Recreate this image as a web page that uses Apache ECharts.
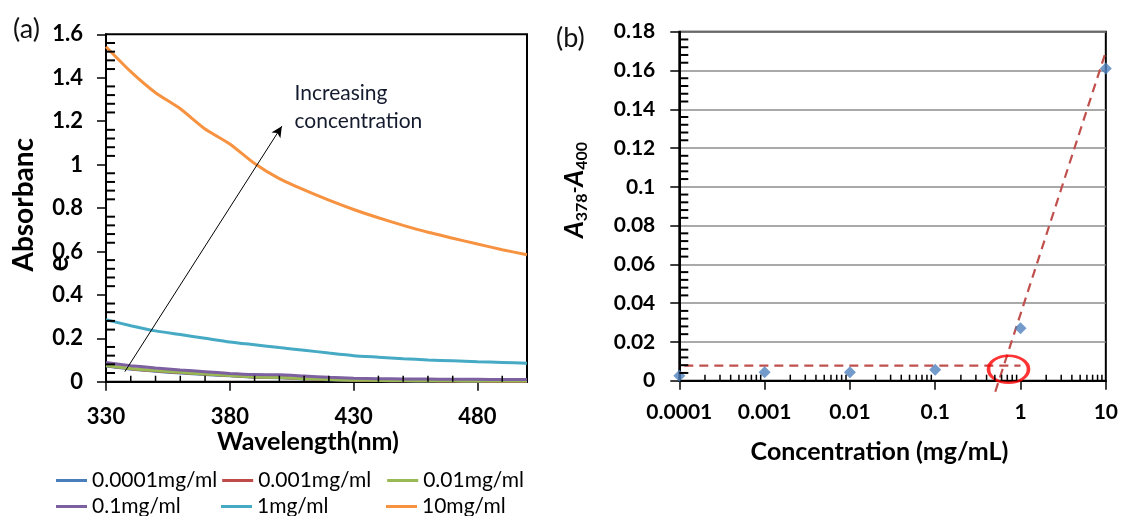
<!DOCTYPE html>
<html>
<head>
<meta charset="utf-8">
<script src="https://cdn.jsdelivr.net/npm/echarts@6.0.0/dist/echarts.min.js"></script>
<style>html,body{margin:0;padding:0;background:#fff}#chart01{width:1121px;height:516px}</style>
</head>
<body>
<div id="chart01"></div>
<script>
// (a) absorbance spectra
var wavelength = [330,340,350,360,370,380,390,400,410,420,430,440,450,460,470,480,490,500];
var abs00001 = [0.072,0.058,0.048,0.040,0.033,0.027,0.021,0.018,0.013,0.009,0.006,0.005,0.004,0.003,0.003,0.002,0.002,0.002];
var abs0001  = [0.074,0.060,0.050,0.042,0.035,0.028,0.022,0.019,0.014,0.010,0.007,0.005,0.004,0.004,0.003,0.003,0.002,0.002];
var abs001   = [0.075,0.061,0.051,0.043,0.035,0.028,0.022,0.019,0.014,0.010,0.007,0.006,0.005,0.004,0.004,0.003,0.003,0.003];
var abs01    = [0.088,0.074,0.063,0.054,0.046,0.038,0.033,0.032,0.026,0.020,0.016,0.014,0.013,0.012,0.011,0.011,0.010,0.010];
var abs1     = [0.285,0.258,0.234,0.217,0.200,0.183,0.170,0.157,0.145,0.132,0.120,0.113,0.106,0.100,0.096,0.092,0.089,0.085];
var abs10    = [1.543,1.428,1.331,1.257,1.164,1.095,1.005,0.935,0.883,0.836,0.793,0.755,0.720,0.688,0.661,0.634,0.608,0.585];
var seriesNames = ['0.0001mg/ml','0.001mg/ml','0.01mg/ml','0.1mg/ml','1mg/ml','10mg/ml'];
var seriesColors = ['#4A7EBB','#BE4B48','#98B954','#7D60A0','#46AAC5','#F69240'];
var wlTicks = [330,380,430,480];
var wlMinorTicks = [340,350,360,370,390,400,410,420,440,450,460,470,490];
var absMinorTicks = [0.04,0.08,0.12,0.16,0.24,0.28,0.32,0.36,0.44,0.48,0.52,0.56,0.64,0.68,0.72,0.76,
                     0.84,0.88,0.92,0.96,1.04,1.08,1.12,1.16,1.24,1.28,1.32,1.36,1.44,1.48,1.52,1.56];
var arrowFrom = [337.6, 0.046];
var arrowTo = [401, 1.177];

// (b) A378-A400 vs concentration
var concentration = [0.0001,0.001,0.01,0.1,1,10];
var diffA = [0.0026,0.0044,0.0044,0.0056,0.027,0.161];
var concTickLabels = ['0.0001','0.001','0.01','0.1','1','10'];
var baseLineX = [0.0000764, 1.0];
var baseLineY = [0.0078, 0.0078];
var trendX = [0.506, 9.87];
var trendY = [-0.0057, 0.1689];
var lodCircle = [0.723, 0.0059];

// log minor ticks 2..9 in each decade, y minor ticks every 0.004
var concMinorTicks = [];
for (var d = 0.0001; d < 5; d *= 10) {
    for (var k = 2; k <= 9; k++) concMinorTicks.push(d * k);
}
var diffMinorTicks = [];
for (var j = 1; j < 45; j++) if (j % 5) diffMinorTicks.push(+(j * 0.004).toFixed(4));

function zip(xs, ys) {
    return xs.map(function (x, i) { return [x, ys[i]]; });
}

// minor ticks drawn inside the plot (the built-in ones only go outward)
function xTickSeries(xi, xTicks) {
    return {
        type: 'custom', xAxisIndex: xi, yAxisIndex: xi, silent: true, z: 10,
        data: xTicks.map(function (v) { return [v, 0]; }),
        renderItem: function (params, api) {
            var p = api.coord([api.value(0), api.value(1)]);
            return {
                type: 'line',
                shape: { x1: p[0], y1: p[1], x2: p[0], y2: p[1] - 6 },
                style: { stroke: '#000', lineWidth: 1.5 }
            };
        }
    };
}

function yTickSeries(xi, x0, yTicks) {
    return {
        type: 'custom', xAxisIndex: xi, yAxisIndex: xi, silent: true, z: 10,
        data: yTicks.map(function (v) { return [x0, v]; }),
        renderItem: function (params, api) {
            var p = api.coord([api.value(0), api.value(1)]);
            return {
                type: 'rect',
                shape: { x: p[0], y: p[1] - 1, width: 9, height: 2 },
                style: { fill: '#000' }
            };
        }
    };
}

var absData = [abs00001, abs0001, abs001, abs01, abs1, abs10];
var lineSeries = absData.map(function (vals, i) {
    return {
        name: seriesNames[i],
        type: 'line',
        xAxisIndex: 0,
        yAxisIndex: 0,
        data: zip(wavelength, vals),
        showSymbol: false,
        smooth: 0.2,
        color: seriesColors[i],
        lineStyle: { width: 3, color: seriesColors[i] }
    };
});
lineSeries[0].markLine = {
    silent: true,
    symbol: ['none', 'arrow'],
    symbolSize: [8, 11],
    label: { show: false },
    lineStyle: { color: '#000', width: 1, type: 'solid' },
    data: [[{ coord: arrowFrom }, { coord: arrowTo }]]
};

var labelFontA = { fontFamily: 'Lato', fontWeight: 'bold', fontSize: 22, color: '#000' };
var labelFontB = { fontFamily: 'Lato', fontWeight: 'bold', fontSize: 21, color: '#000' };
var blackLine = { show: true, onZero: false, lineStyle: { color: '#000', width: 2 } };
var majorTick = { show: true, length: 9, lineStyle: { color: '#000', width: 1.5 } };

var myChart = echarts.init(document.getElementById('chart01'));
option = {
    backgroundColor: '#fff',
    animation: false,
    grid: [
        { left: 106, right: 594, top: 34.3, bottom: 134.3, show: true, borderColor: '#000', borderWidth: 2 },
        { left: 679.3, right: 13, top: 31.7, bottom: 135.3, show: true, borderColor: '#000', borderWidth: 2 }
    ],
    legend: {
        data: seriesNames,
        left: 56,
        top: 470,
        padding: 0,
        width: 500,
        icon: 'rect',
        itemWidth: 31,
        itemHeight: 3,
        itemGap: 5,
        textStyle: { fontFamily: 'Lato', fontSize: 21, color: '#000', width: 124, lineHeight: 20 }
    },
    xAxis: [
        {
            type: 'value', gridIndex: 0, min: 330, max: 500,
            axisLine: blackLine,
            axisTick: { show: true, length: 9, customValues: wlTicks, lineStyle: { color: '#000', width: 1.5 } },
            axisLabel: Object.assign({ margin: 24, customValues: wlTicks }, labelFontA),
            splitLine: { show: false }
        },
        {
            type: 'log', gridIndex: 1, logBase: 10, min: 0.0001, max: 10,
            axisLine: blackLine,
            axisTick: majorTick,
            axisLabel: Object.assign({
                margin: 21,
                formatter: function (v) { return concTickLabels[Math.round(Math.log10(v)) + 4]; }
            }, labelFontB),
            splitLine: { show: false }
        }
    ],
    yAxis: [
        {
            type: 'value', gridIndex: 0, min: 0, max: 1.6, interval: 0.2,
            axisLine: blackLine,
            axisTick: majorTick,
            axisLabel: Object.assign({ margin: 23 }, labelFontA),
            splitLine: { show: false }
        },
        {
            type: 'value', gridIndex: 1, min: 0, max: 0.18, interval: 0.02,
            axisLine: blackLine,
            axisTick: majorTick,
            axisLabel: Object.assign({ margin: 24 }, labelFontB),
            splitLine: { show: true, lineStyle: { color: '#8c8c8c', width: 1.5 } }
        }
    ],
    series: lineSeries.concat([
        xTickSeries(0, wlMinorTicks),
        xTickSeries(1, concMinorTicks),
        yTickSeries(0, 330, absMinorTicks),
        yTickSeries(1, 0.0001, diffMinorTicks),
        {
            type: 'line', xAxisIndex: 1, yAxisIndex: 1, silent: true, clip: false,
            data: zip(baseLineX, baseLineY), showSymbol: false,
            lineStyle: { color: '#C0504D', width: 2.2, type: [9, 6] }
        },
        {
            type: 'line', xAxisIndex: 1, yAxisIndex: 1, silent: true, clip: false,
            data: zip(trendX, trendY), showSymbol: false,
            lineStyle: { color: '#C0504D', width: 2.2, type: [9, 6] }
        },
        {
            type: 'scatter', xAxisIndex: 1, yAxisIndex: 1, clip: false,
            data: zip(concentration, diffA), symbol: 'diamond', symbolSize: 12,
            itemStyle: { color: '#4F81BD' }, z: 5
        },
        {
            type: 'scatter', xAxisIndex: 1, yAxisIndex: 1, clip: false, silent: true,
            data: [lodCircle], symbol: 'circle', symbolSize: [40, 27],
            itemStyle: { color: 'rgba(0,0,0,0)', borderColor: '#FF0000', borderWidth: 3 }, z: 6
        }
    ]),
    graphic: [
        { type: 'text', x: 13, y: 29, style: { text: '(a)', font: '27px Lato', fill: '#111', verticalAlign: 'middle' } },
        { type: 'text', x: 556, y: 38.5, style: { text: '(b)', font: '27px Lato', fill: '#111', verticalAlign: 'middle' } },
        { type: 'text', x: 294.5, y: 79, style: { text: 'Increasing\nconcentration', font: '21px Lato', lineHeight: 28, fill: '#141b2e', verticalAlign: 'top' } },
        { type: 'text', x: 308, y: 442, style: { text: 'Wavelength(nm)', font: 'bold 25px Lato', fill: '#000', align: 'center', verticalAlign: 'middle' } },
        { type: 'text', x: 879.5, y: 452, style: { text: 'Concentration (mg/mL)', font: 'bold 25px Lato', fill: '#000', align: 'center', verticalAlign: 'middle' } },
        { type: 'text', x: 6.5, y: 271.5, rotation: Math.PI / 2, style: { text: 'Absorbanc\ne', font: 'bold 28px Lato', lineHeight: 35, fill: '#000', align: 'left', verticalAlign: 'top' } },
        {
            type: 'text', x: 575, y: 190, rotation: Math.PI / 2,
            style: {
                text: '{a|A}{s|378}{m|-}{a|A}{s|400}',
                align: 'center', verticalAlign: 'middle', fill: '#000',
                rich: {
                    a: { font: 'italic bold 26px Lato', lineHeight: 30 },
                    s: { font: 'bold 16px Lato', verticalAlign: 'bottom' },
                    m: { font: 'bold 18px Lato', lineHeight: 30 }
                }
            }
        }
    ]
};
if (option && typeof option === "object") {
    myChart.setOption(option, true);
}
</script>
</body>
</html>
